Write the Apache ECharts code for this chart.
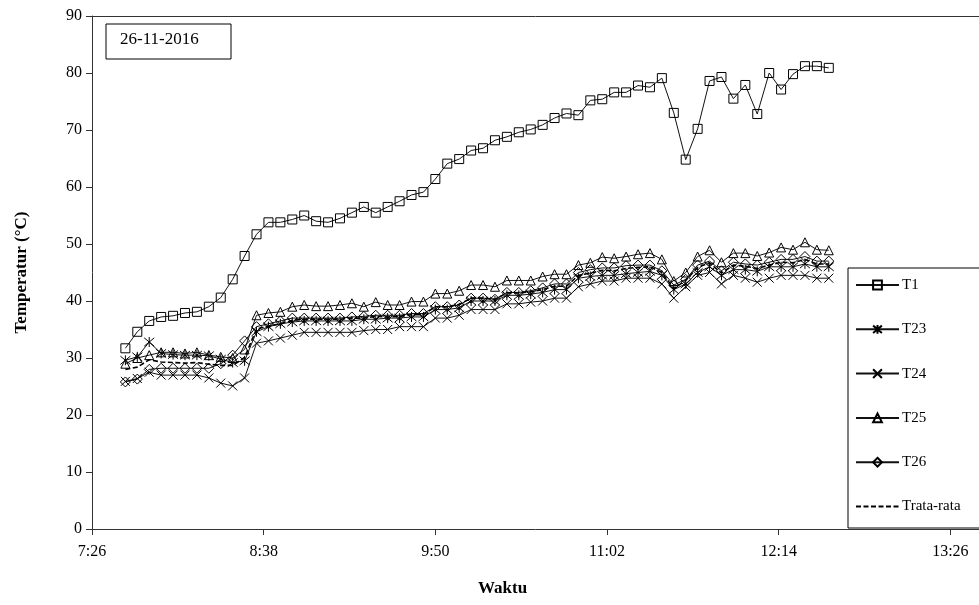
<!DOCTYPE html>
<html>
<head>
<meta charset="utf-8">
<script src="https://cdn.jsdelivr.net/npm/echarts@6/dist/echarts.min.js"></script>
<style>
  html, body { margin: 0; padding: 0; background: #fff; }
  #chart { width: 979px; height: 605px; }
</style>
</head>
<body>
<div id="chart"></div>
<script>
// Measurement times (clock time, 5-minute steps)
const times = ['7:40','7:45','7:50','7:55','8:00','8:05','8:10','8:15','8:20','8:25',
  '8:30','8:35','8:40','8:45','8:50','8:55','9:00','9:05','9:10','9:15',
  '9:20','9:25','9:30','9:35','9:40','9:45','9:50','9:55','10:00','10:05',
  '10:10','10:15','10:20','10:25','10:30','10:35','10:40','10:45','10:50','10:55',
  '11:00','11:05','11:10','11:15','11:20','11:25','11:30','11:35','11:40','11:45',
  '11:50','11:55','12:00','12:05','12:10','12:15','12:20','12:25','12:30','12:35'];

// Temperatures (°C)
const T1 = [31.7,34.6,36.5,37.2,37.4,37.9,38.1,39.0,40.6,43.8,
  47.9,51.7,53.8,53.8,54.3,55.0,54.0,53.8,54.5,55.5,
  56.5,55.5,56.5,57.5,58.6,59.1,61.4,64.1,64.9,66.4,
  66.8,68.2,68.8,69.6,70.1,70.9,72.1,72.9,72.6,75.2,
  75.4,76.6,76.6,77.8,77.5,79.1,73.0,64.8,70.2,78.6,
  79.3,75.5,77.9,72.8,80.0,77.1,79.8,81.2,81.2,80.9];
const T23 = [29.6,30.2,32.8,30.8,30.6,30.5,30.5,30.4,29.8,29.2,
  29.5,34.6,35.5,36.0,36.3,36.5,36.5,36.5,36.5,36.5,
  36.8,36.8,37.0,37.0,37.2,37.2,38.5,38.5,38.8,40.0,
  40.0,40.0,41.0,41.0,41.2,41.5,42.0,42.0,44.0,44.3,
  44.5,44.5,44.8,45.0,45.2,44.5,42.0,43.0,45.0,46.0,
  44.5,45.5,45.5,45.2,46.0,46.0,46.0,46.5,46.0,46.0];
const T24 = [25.9,26.4,27.5,27.0,27.0,27.0,27.0,26.5,25.6,25.1,
  26.5,32.6,33.0,33.5,34.0,34.5,34.5,34.5,34.5,34.5,
  34.8,35.0,35.0,35.5,35.5,35.5,37.0,37.0,37.5,38.5,
  38.5,38.5,39.5,39.5,39.8,40.0,40.5,40.5,42.5,43.0,
  43.5,43.5,44.0,44.0,44.0,43.0,40.5,42.5,44.5,45.0,
  43.0,44.5,44.0,43.3,44.0,44.5,44.5,44.5,44.0,44.0];
const T25 = [29.0,30.0,30.5,31.0,31.0,30.8,31.0,30.5,30.2,30.0,
  31.5,37.5,37.9,38.1,39.0,39.3,39.1,39.1,39.3,39.6,
  39.0,39.8,39.3,39.3,39.9,39.9,41.3,41.3,41.8,42.8,
  42.8,42.5,43.6,43.6,43.6,44.3,44.7,44.7,46.3,46.7,
  47.7,47.5,47.8,48.2,48.4,47.3,43.5,45.0,47.8,48.9,
  46.8,48.4,48.4,47.9,48.5,49.4,49.0,50.3,49.0,48.9];
const T26 = [25.8,26.3,28.0,28.2,28.2,28.2,28.2,28.2,29.0,30.5,
  33.0,35.5,36.0,36.5,37.0,37.0,37.0,37.0,37.0,37.2,
  37.3,37.5,37.5,37.5,37.8,37.8,39.0,39.0,39.3,40.5,
  40.5,40.3,41.5,41.5,41.8,42.3,43.0,43.0,45.0,45.5,
  45.8,45.8,46.2,46.3,46.3,45.3,42.8,43.8,46.3,47.0,
  45.3,46.8,46.5,46.3,46.8,47.3,47.3,47.8,47.0,47.0];
const TRata = [28.0,28.4,29.7,29.3,29.2,29.1,29.2,28.9,28.7,28.7,
  30.1,35.1,35.6,36.0,36.6,36.8,36.8,36.8,36.8,37.0,
  37.0,37.3,37.2,37.3,37.6,37.6,39.0,39.0,39.4,40.5,
  40.5,40.3,41.4,41.4,41.6,42.0,42.6,42.6,44.5,44.9,
  45.4,45.3,45.7,45.9,46.0,45.0,42.2,43.6,45.9,46.7,
  44.9,46.3,46.1,45.7,46.3,46.8,46.7,47.3,46.5,46.5];

// Time axis: labelled clock times every 72 minutes from 7:26 to 13:26,
// the axis itself runs a little past the last label.
const axisStart = '7:26';
const tickLabels = ['7:26','8:38','9:50','11:02','12:14','13:26'];
const axisEnd = '13:38';
const yMax = 90;
const yStep = 10;
const dateLabel = '26-11-2016';

const toMin = s => { const p = s.split(':'); return (+p[0]) * 60 + (+p[1]); };
const base = toMin(axisStart);
const tickValues = tickLabels.map(s => toMin(s) - base);
const fmtClock = v => {
  const t = Math.round(base + v);
  const h = Math.floor(t / 60), m = t % 60;
  return h + ':' + (m < 10 ? '0' + m : m);
};
const pairs = arr => arr.map((v, i) => [toMin(times[i]) - base, v]);

const SERIF = "'Liberation Serif', 'Times New Roman', serif";
const INK = '#000';
const AXIS = '#333';

const starPath = 'path://M0,0L10,10M10,0L0,10M5,-1L5,11';
const crossPath = 'path://M0,0L10,10M10,0L0,10';

function lineSeries(name, data, symbol, size) {
  return {
    name, type: 'line', data: pairs(data), xAxisIndex: 0,
    symbol, symbolSize: size,
    lineStyle: { color: '#111', width: 1 },
    itemStyle: { color: 'rgba(255,255,255,0)', borderColor: INK, borderWidth: 1 },
    emphasis: { disabled: true },
    animation: false
  };
}

const chart = echarts.init(document.getElementById('chart'), null, { renderer: 'canvas' });
chart.setOption({
  backgroundColor: '#fff',
  animation: false,
  grid: {
    left: 92, top: 16, right: 0, height: 513,
    outerBoundsMode: 'none', containLabel: false, show: false
  },
  xAxis: [{
    type: 'value', min: 0, max: toMin(axisEnd) - base,
    axisLine: { lineStyle: { color: AXIS, width: 1 } },
    axisTick: { show: true, length: 6, inside: false, customValues: tickValues, lineStyle: { color: AXIS } },
    splitLine: { show: false },
    axisLabel: { customValues: tickValues, formatter: fmtClock, fontFamily: SERIF, fontSize: 16, color: INK, margin: 15 }
  }, {
    // top frame line of the plot area
    type: 'value', position: 'top', min: 0, max: toMin(axisEnd) - base,
    axisLine: { show: true, lineStyle: { color: AXIS, width: 1 } },
    axisTick: { show: false }, axisLabel: { show: false }, splitLine: { show: false }
  }],
  yAxis: {
    type: 'value', min: 0, max: yMax, interval: yStep,
    name: 'Temperatur (°C)', nameLocation: 'middle', nameRotate: 90, nameGap: 62,
    nameTextStyle: { fontFamily: SERIF, fontSize: 17, fontWeight: 'bold', color: INK },
    axisLine: { show: true, lineStyle: { color: AXIS, width: 1 } },
    axisTick: { show: true, length: 6, inside: false, lineStyle: { color: AXIS } },
    splitLine: { show: false },
    axisLabel: { fontFamily: SERIF, fontSize: 16, color: INK, margin: 10 }
  },
  legend: {
    orient: 'vertical', left: 855, top: 277.5,
    itemWidth: 43, itemHeight: 11, itemGap: 29.3,
    padding: 0,
    textStyle: { fontFamily: SERIF, fontSize: 15, color: INK, padding: [0, 0, 0, -2] },
    data: ['T1', 'T23', 'T24', 'T25', 'T26',
      { name: 'Trata-rata', itemStyle: { opacity: 0 } }],
    selectedMode: false, z: 20
  },
  graphic: [
    { type: 'rect', left: 847.5, top: 267.5, z: 10,
      shape: { width: 200, height: 260 },
      style: { fill: '#fff', stroke: INK, lineWidth: 1 } },
    { type: 'rect', left: 105.5, top: 23.5, z: 10,
      shape: { width: 125, height: 35 },
      style: { fill: '#fff', stroke: INK, lineWidth: 1 } },
    { type: 'text', left: 120, top: 31, z: 11,
      style: { text: dateLabel, font: '17px ' + SERIF, fill: INK } },
    { type: 'text', left: 478, top: 580, z: 11,
      style: { text: 'Waktu', font: 'bold 17px ' + SERIF, fill: INK } }
  ],
  series: [
    lineSeries('T1', T1, 'rect', 9),
    lineSeries('T23', T23, starPath, 10),
    lineSeries('T24', T24, crossPath, 9),
    lineSeries('T25', T25, 'triangle', 9),
    lineSeries('T26', T26, 'diamond', 10),
    {
      name: 'Trata-rata', type: 'line', data: pairs(TRata),
      symbol: 'none',
      lineStyle: { color: INK, width: 1.6, type: [5, 2.5] },
      itemStyle: { color: INK },
      emphasis: { disabled: true },
      animation: false
    }
  ]
});
</script>
</body>
</html>
